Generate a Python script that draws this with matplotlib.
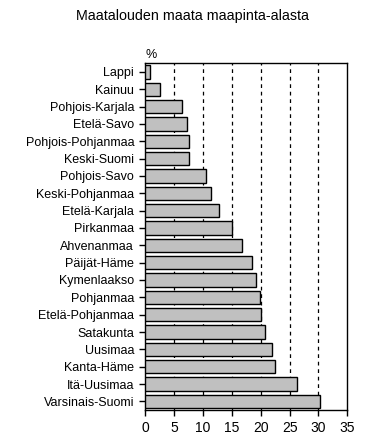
import matplotlib
matplotlib.use("Agg")
import matplotlib.pyplot as plt

plt.rcParams['font.family'] = ['Liberation Sans', 'DejaVu Sans']

regions = ["Lappi", "Kainuu", "Pohjois-Karjala", "Etelä-Savo", "Pohjois-Pohjanmaa",
           "Keski-Suomi", "Pohjois-Savo", "Keski-Pohjanmaa", "Etelä-Karjala", "Pirkanmaa",
           "Ahvenanmaa", "Päijät-Häme", "Kymenlaakso", "Pohjanmaa", "Etelä-Pohjanmaa",
           "Satakunta", "Uusimaa", "Kanta-Häme", "Itä-Uusimaa", "Varsinais-Suomi"]
values = [0.8, 2.6, 6.4, 7.2, 7.5, 7.6, 10.6, 11.4, 12.8, 15.1,
          16.8, 18.5, 19.1, 19.8, 20.1, 20.8, 22.0, 22.5, 26.3, 30.3]
xticks = [0, 5, 10, 15, 20, 25, 30, 35]

fig = plt.figure(figsize=(3.83, 4.36), dpi=100)
ax = fig.add_axes([0.3794, 0.0596, 0.5274, 0.7952])

ypos = list(range(len(regions)))
ax.barh(ypos, values, height=0.77, color='#c0c0c0', edgecolor='black', linewidth=1.0, zorder=3)
ax.set_ylim(len(regions) - 0.5, -0.5)
ax.set_xlim(0, 35)
ax.set_yticks(ypos)
ax.set_yticklabels(regions, fontsize=9)
ax.set_xticks(xticks)
ax.set_xticklabels([str(t) for t in xticks], fontsize=10)
ax.tick_params(axis='y', length=4, width=1, color='black', pad=4)
ax.tick_params(axis='x', length=4, width=1, color='black', pad=4)
for x in xticks[1:-1]:
    ax.axvline(x, color='black', linestyle=(0, (3, 3)), linewidth=0.9, zorder=1)
for s in ax.spines.values():
    s.set_linewidth(1)
    s.set_color('black')

fig.text(0.503, 0.963, "Maatalouden maata maapinta-alasta", ha='center', va='center', fontsize=10.3)
fig.text(0.381, 0.873, "%", ha='left', va='center', fontsize=9)

fig.savefig("out.png", dpi=100)
